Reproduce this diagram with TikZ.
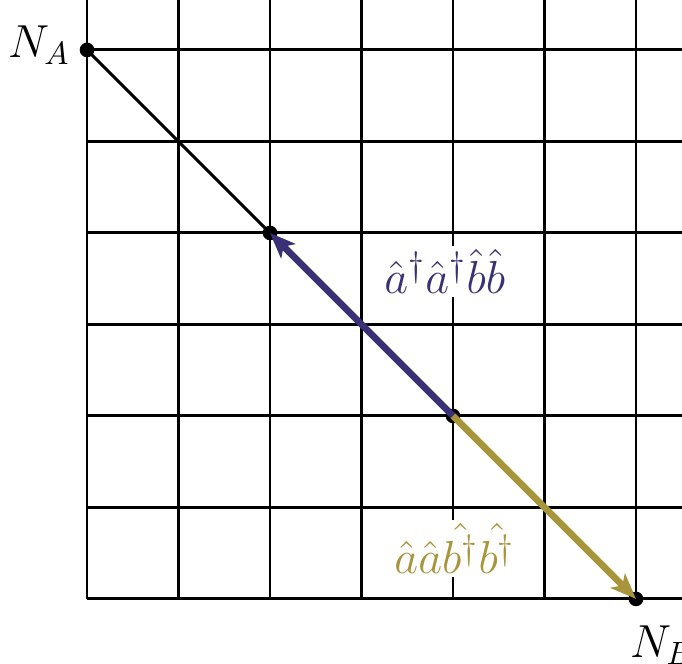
\documentclass[tikz,border=0pt]{standalone}
\usepackage{amsmath}
\usetikzlibrary{arrows.meta}
\definecolor{opblue}{RGB}{58,48,118}
\definecolor{opgold}{RGB}{168,148,58}
\begin{document}
\begin{tikzpicture}[x=1cm,y=1cm,
  gridline/.style={line width=0.9pt,black},
  site/.style={circle,fill=black,inner sep=0pt,minimum size=0.16cm},
  oparrow/.style={line width=2.1pt,-{Stealth[length=0.28cm,width=0.22cm,inset=0.07cm]}},
  oplabel/.style={fill=white,inner sep=1pt,anchor=base,font=\fontsize{15.3}{18}\selectfont},
  sitelabel/.style={font=\fontsize{13.8}{16}\selectfont}]
\useasboundingbox (-0.951,-0.71) rectangle (6.503,6.546);
\foreach \i in {0,...,6} {
  \draw[gridline] (\i,0) -- (\i,6.6);
  \draw[gridline] (0,\i) -- (6.6,\i);
}
\node[site] (na) at (0,6) {};
\node[site] (m1) at (2,4) {};
\node[site] (m2) at (4,2) {};
\node[site] (nb) at (6,0) {};
\draw[line width=0.95pt] (na.center) -- (m1.center);
\draw[oparrow,opblue] (m2.center) -- (m1.center);
\draw[oparrow,opgold] (m2.center) -- (nb.center);
\node[sitelabel,anchor=east] (lna) at (-0.06,6.05) {$N_A$};
\node[sitelabel,anchor=base west,inner sep=0pt] (lnb) at (5.93,-0.64) {$N_B$};
\node[oplabel,text=opblue] (lab1) at (3.91,3.34) {$\hat{a}^\dagger\hat{a}^\dagger\hat{b}\hat{b}$};
\node[oplabel,text=opgold] (lab2) at (4.02,0.28) {$\hat{a}\hat{a}\hat{b^\dagger}\hat{b^\dagger}$};
\end{tikzpicture}
\end{document}
